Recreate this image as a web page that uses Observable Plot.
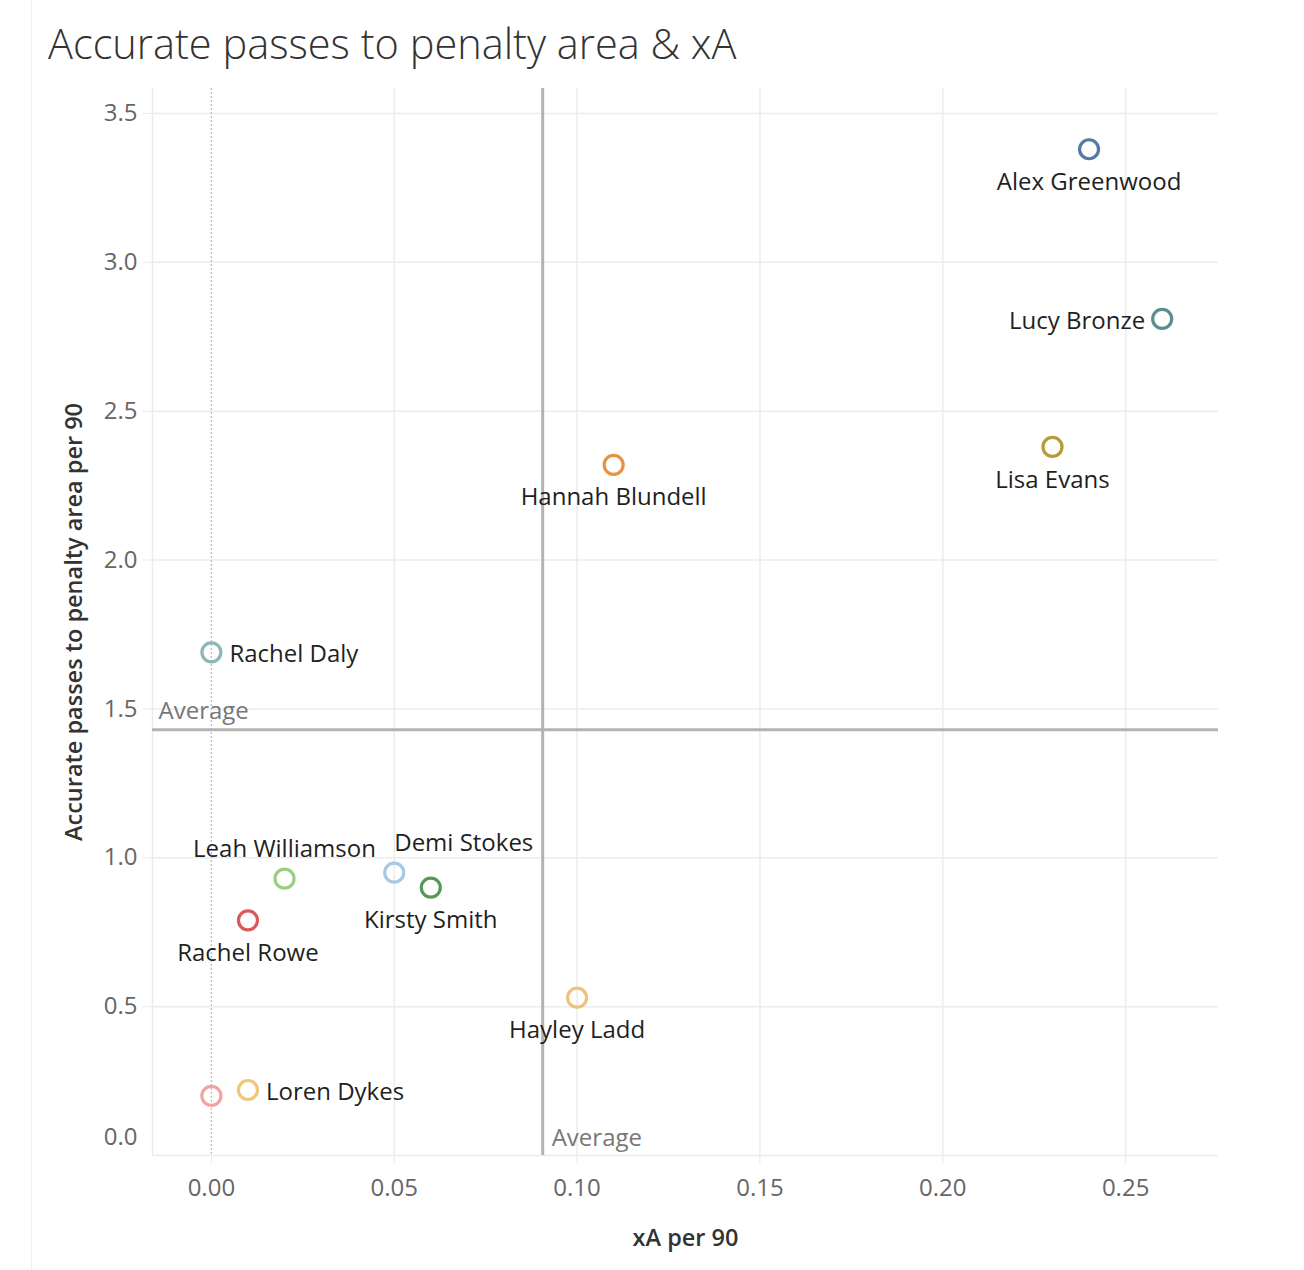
<!DOCTYPE html>
<html>
<head>
<meta charset="utf-8">
<script src="https://cdn.jsdelivr.net/npm/d3@7"></script>
<script src="https://cdn.jsdelivr.net/npm/@observablehq/plot@0.6"></script>
<style>
  html, body { margin: 0; padding: 0; background: #fff; }
  #wrap { position: relative; width: 1304px; height: 1270px; overflow: hidden; }
  #border { position: absolute; left: 31px; top: 0; bottom: 0; width: 1px; background: #efefef; }
  #title { position: absolute; left: 48px; top: 23px; font-family: "Open Sans", sans-serif; font-weight: 300;
           font-size: 41.5px; line-height: 40px; color: #333; white-space: nowrap; }
  #chart { position: absolute; left: 0; top: 88px; }
</style>
</head>
<body>
<div id="wrap">
  <div id="border"></div>
  <div id="title">Accurate passes to penalty area &amp; xA</div>
  <div id="chart"></div>
</div>
<script>
// ---- data ----
const players = ["Alex Greenwood", "Lucy Bronze", "Lisa Evans", "Hannah Blundell", "Rachel Daly",
  "Leah Williamson", "Demi Stokes", "Kirsty Smith", "Rachel Rowe", "Hayley Ladd", "Loren Dykes", ""];
const xaPer90 = [0.24, 0.26, 0.23, 0.11, 0.00, 0.02, 0.05, 0.06, 0.01, 0.10, 0.01, 0.00];
const passesPer90 = [3.38, 2.81, 2.38, 2.32, 1.69, 0.93, 0.95, 0.90, 0.79, 0.53, 0.22, 0.20];
const playerColors = ["#5479a6", "#5e8d8f", "#b89a36", "#e49444", "#8fb7b8", "#98cf84",
  "#a6c9e6", "#5a965c", "#d85a5b", "#f0c27b", "#f0c67c", "#f2a3a2"];
const labelSide = ["below", "left", "below", "below", "right", "above", "aboveRight",
  "below", "below", "below", "right", "none"];
const averageXA = 0.0906;
const averagePasses = 1.43;
const xTicks = [0, 0.05, 0.10, 0.15, 0.20, 0.25];
const yTicks = [0, 0.5, 1.0, 1.5, 2.0, 2.5, 3.0, 3.5];
const xDomain = [-0.0161, 0.2754];
const yDomain = [0, 3.584];

const data = players.map((name, i) => ({
  name, xa: xaPer90[i], passes: passesPer90[i], color: playerColors[i], side: labelSide[i]
}));

const grid = "#ececec";
const font = "Open Sans";
const labelOpts = {x: "xa", y: "passes", text: "name", fill: "#1f1f1f", fontSize: 24};

const chart = Plot.plot({
  width: 1304,
  height: 1182,
  marginTop: 0,
  marginLeft: 152,
  marginRight: 86,
  marginBottom: 115,
  style: {fontFamily: font, fontSize: "24px", background: "transparent"},
  x: {domain: xDomain},
  y: {domain: yDomain},
  color: {type: "identity"},
  marks: [
    Plot.gridX(xTicks.filter(d => d !== 0), {stroke: grid, strokeOpacity: 1, strokeWidth: 1.5}),
    Plot.gridY(yTicks, {stroke: grid, strokeOpacity: 1, strokeWidth: 1.5}),
    Plot.ruleX([xDomain[0]], {stroke: grid, strokeWidth: 1.5}),
    Plot.ruleX([0], {stroke: "#bdbdbd", strokeWidth: 1.3, strokeDasharray: "2,2"}),
    Plot.axisX(xTicks, {tickSize: 9, tickPadding: 14, stroke: grid, fill: "#666", fontSize: 24,
      tickFormat: d => d.toFixed(2), label: null}),
    Plot.axisY(yTicks.filter(d => d !== 0), {tickSize: 10, tickPadding: 5, stroke: grid, fill: "#666", fontSize: 24,
      tickFormat: d => d.toFixed(1), label: null}),
    Plot.axisY([0], {tickSize: 0, tickPadding: 15, fill: "#666", fontSize: 24, dy: -18,
      tickFormat: d => d.toFixed(1), label: null}),
    Plot.ruleX([averageXA], {stroke: "#b3b3b3", strokeWidth: 3}),
    Plot.ruleY([averagePasses], {stroke: "#b3b3b3", strokeWidth: 3}),
    Plot.text([averagePasses], {x: xDomain[0], y: d => d, text: () => "Average", textAnchor: "start",
      dx: 6, dy: -18, fill: "#777", fontSize: 24}),
    Plot.text([averageXA], {x: d => d, y: yDomain[0], text: () => "Average", textAnchor: "start",
      dx: 9, dy: -17, fill: "#777", fontSize: 24}),
    Plot.dot(data, {x: "xa", y: "passes", r: 9.5, stroke: "color", strokeWidth: 3.2, fill: "none"}),
    Plot.text(data.filter(d => d.side === "below"), {...labelOpts, dy: 33}),
    Plot.text(data.filter(d => d.side === "above"), {...labelOpts, dy: -29}),
    Plot.text(data.filter(d => d.side === "aboveRight"), {...labelOpts, dy: -29, textAnchor: "start", dx: 0}),
    Plot.text(data.filter(d => d.side === "left"), {...labelOpts, dx: -17, dy: 2, textAnchor: "end"}),
    Plot.text(data.filter(d => d.side === "right"), {...labelOpts, dx: 18, dy: 2, textAnchor: "start"}),
    Plot.text(["xA per 90"], {frameAnchor: "bottom", dy: 90, fill: "#333", fontSize: 23.5, fontWeight: 600}),
    Plot.text(["Accurate passes to penalty area per 90"], {frameAnchor: "left", textAnchor: "middle",
      dx: -78, rotate: -90, fill: "#333", fontSize: 23.5, fontWeight: 600})
  ]
});
document.getElementById("chart").appendChild(chart);
</script>
</body>
</html>
